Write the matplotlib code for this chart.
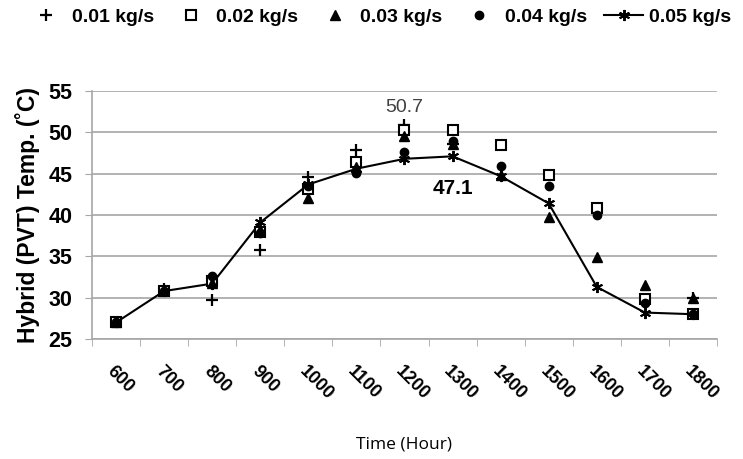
import numpy as np
import matplotlib.pyplot as plt
import matplotlib.transforms as mtransforms

plt.rcParams['font.family'] = ['Liberation Sans', 'DejaVu Sans']

# Hybrid PVT temperature vs time for different mass flow rates
hours = ["600", "700", "800", "900", "1000", "1100", "1200",
         "1300", "1400", "1500", "1600", "1700", "1800"]
t001 = [27.0, 31.1, 29.7, 35.8, 44.6, 47.9, 50.9, 48.6, 48.5, 44.9, 40.9, 29.9, 30.0]
t002 = [27.0, 30.8, 32.0, 38.0, 43.1, 46.4, 50.3, 50.3, 48.5, 44.8, 40.9, 29.8, 28.0]
t003 = [27.0, 30.9, 31.8, 38.2, 42.1, 45.8, 49.5, 48.6, 44.8, 39.8, 34.9, 31.5, 30.0]
t004 = [27.0, 30.8, 32.6, 37.8, 43.5, 45.1, 47.6, 48.9, 45.9, 43.5, 40.0, 29.4, 28.0]
t005 = [27.0, 30.8, 31.7, 39.1, 43.7, 45.6, 46.8, 47.1, 44.7, 41.4, 31.3, 28.2, 28.0]

x = np.arange(len(hours))

fig = plt.figure(figsize=(7.43, 4.59), dpi=100)
ax = fig.add_axes([0.1238, 0.2614, 0.8412, 0.5403])

ax.plot(x, t005, color='black', lw=1.5, marker=(6, 2, 0), ms=8, mew=1.4,
        label='0.05 kg/s', zorder=3)
ax.plot(x, t001, ls='none', marker='+', ms=9, mew=1.6, color='black',
        label='0.01 kg/s', zorder=4)
ax.plot(x, t002, ls='none', marker='s', ms=6.5, mew=1.5, mfc='white', mec='black',
        label='0.02 kg/s', zorder=4)
ax.plot(x, t003, ls='none', marker='^', ms=7, color='black',
        label='0.03 kg/s', zorder=4)
ax.plot(x, t004, ls='none', marker='o', ms=6, color='black',
        label='0.04 kg/s', zorder=4)

ax.set_xlim(-0.5, len(hours) - 0.5)
ax.set_ylim(25, 55)
ax.set_yticks(np.arange(25, 56, 5))
ax.yaxis.grid(True, color='#a6a6a6', lw=1.2)
ax.set_axisbelow(True)

ax.set_xticks(x)
ax.set_xticklabels(hours, rotation=-45, ha='left', va='top', fontsize=13,
                   fontweight='bold', rotation_mode='anchor')
shift = mtransforms.ScaledTranslation(4 / 72, 0, fig.dpi_scale_trans)
for lab in ax.get_xticklabels():
    lab.set_transform(lab.get_transform() + shift)
ax.set_xticks(np.arange(-0.5, len(hours), 1), minor=True)
ax.tick_params(axis='x', which='major', length=0, pad=17)
ax.tick_params(axis='x', which='minor', length=5, color='#a6a6a6')
ax.tick_params(axis='y', length=5, color='#a6a6a6', labelsize=15.5, pad=9)
for lab in ax.get_yticklabels():
    lab.set_fontweight('bold')

for s in ['top', 'right']:
    ax.spines[s].set_visible(False)
for s in ['left', 'bottom']:
    ax.spines[s].set_color('#a6a6a6')
    ax.spines[s].set_linewidth(1.2)

ax.set_ylabel('Hybrid (PVT) Temp. (˚C)', fontsize=16.5, fontweight='bold', labelpad=6)
ax.set_xlabel('Time (Hour)', fontsize=12.5, family=['Open Sans', 'DejaVu Sans'],
              labelpad=24)

ax.text(6, 52.0, '50.7', ha='center', va='bottom', fontsize=14, color='#404040')
ax.text(7, 44.3, '47.1', ha='center', va='top', fontsize=15, fontweight='bold')

handles, labels = ax.get_legend_handles_labels()
order = [1, 2, 3, 4, 0]
leg = fig.legend([handles[i] for i in order], [labels[i] for i in order],
                 loc='upper center', bbox_to_anchor=(0.51, 1.015), ncol=5,
                 frameon=False, prop={'weight': 'bold', 'size': 14},
                 handlelength=2.0, handletextpad=0.3, columnspacing=0.9,
                 borderpad=0.3)

fig.savefig('out.png', dpi=100)
